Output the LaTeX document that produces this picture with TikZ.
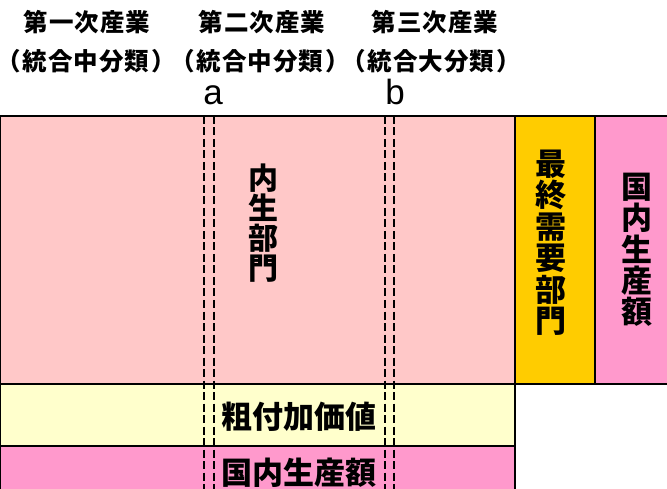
\documentclass[tikz,border=0pt]{standalone}
\usepackage{fontspec}
\newfontfamily\jp{Noto Sans CJK JP}
\newfontfamily\jpsp{Noto Sans CJK JP}[LetterSpace=4]
\newfontfamily\jpp{Noto Sans CJK JP}[RawFeature=+palt]
\newfontfamily\lat{Liberation Sans}
\newcommand{\plo}{{\jpp\bfseries （}\kern3pt}
\newcommand{\plc}{\kern3pt{\jpp\bfseries ）}}
\definecolor{nspink}{HTML}{FFC8C8}
\definecolor{fdyel}{HTML}{FFCC00}
\definecolor{gppink}{HTML}{FF99CC}
\definecolor{vayel}{HTML}{FFFFCC}
\tikzset{
  blk/.style={draw=black, line width=2pt, inner sep=0pt, outer sep=0pt, anchor=north west},
  vtxt/.style={align=center, inner sep=0pt, font=\jp\bfseries\fontsize{31}{31.3}\selectfont},
  htxt/.style={inner sep=0pt, font=\jp\bfseries\fontsize{31}{31}\selectfont},
  toptxt/.style={inner sep=0pt, font=\jpsp\bfseries\fontsize{24.5}{24.5}\selectfont},
  lettxt/.style={inner sep=0pt, anchor=base, font=\lat\fontsize{35}{35}\selectfont},
  dline/.style={line width=2.2pt, dash pattern=on 8pt off 3.5pt}
}
\begin{document}
\begin{tikzpicture}[x=1pt, y=-1pt]
\useasboundingbox (0,0) rectangle (667,489);
\clip (0,0) rectangle (667,489);
% blocks
\node[blk, fill=nspink, minimum width=515pt, minimum height=268pt] (ns) at (0,116) {};
\node[blk, fill=fdyel, minimum width=80pt, minimum height=268pt] (fd) at (515,116) {};
\node[blk, fill=gppink, minimum width=80pt, minimum height=268pt] (gp) at (595,116) {};
\node[blk, fill=vayel, minimum width=515pt, minimum height=62pt] (va) at (0,384) {};
\node[blk, fill=gppink, minimum width=515pt, minimum height=60pt] (go) at (0,446) {};
% dashed lines
\coordinate (a1t) at (204,116); \coordinate (a1b) at (204,492);
\coordinate (a2t) at (214,116); \coordinate (a2b) at (214,492);
\coordinate (b1t) at (385,116); \coordinate (b1b) at (385,492);
\coordinate (b2t) at (394,116); \coordinate (b2b) at (394,492);
\draw[dline] (a1t) -- (a1b);
\draw[dline] (a2t) -- (a2b);
\draw[dline] (b1t) -- (b1b);
\draw[dline] (b2t) -- (b2b);
% texts in blocks
\node[vtxt, font=\jp\bfseries\fontsize{30}{30}\selectfont] (nst) at (263,223) {内\\生\\部\\門};
\node[vtxt, font=\jp\bfseries\fontsize{31}{31.5}\selectfont] (fdt) at (551,242.5) {最\\終\\需\\要\\部\\門};
\node[vtxt] (gpt) at (637,250) {国\\内\\生\\産\\額};
\node[htxt] (vat) at (298.5,417) {粗付加価値};
\node[htxt] (got) at (298.5,473) {国内生産額};
% header
\node[toptxt] (h1) at (87,22.5) {第一次産業};
\node[toptxt] (h2) at (262,22.5) {第二次産業};
\node[toptxt] (h3) at (435,22.5) {第三次産業};
\node[toptxt] (s1) at (86,61) {\plo 統合中分類\plc};
\node[toptxt] (s2) at (260,61) {\plo 統合中分類\plc};
\node[toptxt] (s3) at (431,61) {\plo 統合大分類\plc};
\node[lettxt] (la) at (213,105) {a};
\node[lettxt] (lb) at (395,105) {b};
\end{tikzpicture}
\end{document}
